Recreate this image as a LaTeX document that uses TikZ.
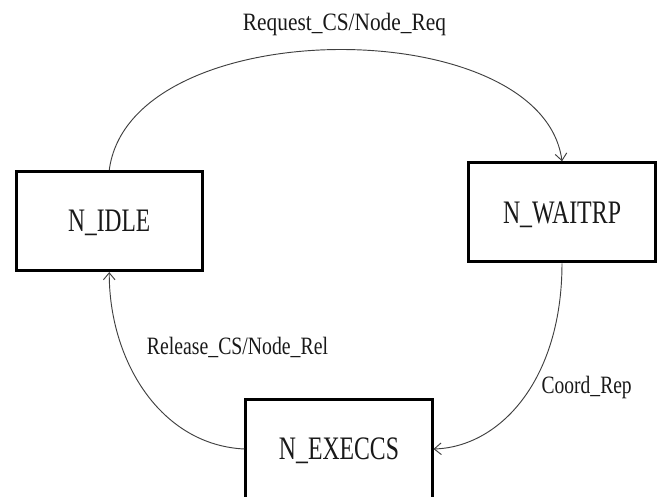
\documentclass[tikz,border=0pt]{standalone}
\usepackage{fontspec}
\setmainfont{Liberation Serif}
\usepackage{graphicx}
\usetikzlibrary{arrows.meta}

% squeeze text horizontally to a given width, keeping its height
\newcommand{\narrowto}[2]{\resizebox{#1}{\height}{#2}}

\tikzset{
  statebox/.style={draw=black, line width=0.09cm, fill=white, inner sep=0pt,
    minimum width=5.58cm, minimum height=2.97cm, text=black!90,
    font=\fontsize{28}{30}\selectfont, text height=0.65cm, text depth=0pt},
  translabel/.style={inner sep=0pt, anchor=base, text=black!90,
    font=\fontsize{21.3}{24}\selectfont},
  transition/.style={draw=black!75, line width=0.8pt,
    -{Straight Barb[length=6pt,width=10pt]}}
}

\begin{document}
\begin{tikzpicture}[x=0.03cm, y=-0.03cm]
  \useasboundingbox (0,0) rectangle (659,497);

  % the three node states
  \node[statebox] (idle) at (109.25,221.1) {\narrowto{2.46cm}{N\_IDLE}};
  \node[statebox] (wait) at (562,212.3)   {\narrowto{3.54cm}{N\_WAITRP}};
  \node[statebox] (exec) at (339,449)     {\narrowto{3.6cm}{N\_EXECCS}};

  % transitions
  \draw[transition] (idle.north) .. controls (130,11) and (542,11) .. (wait.north);
  \draw[transition] (wait.south) .. controls (562,380) and (500,447) .. (exec.east);
  \draw[transition] (exec.west) .. controls (160,445) and (109,360) .. (idle.south);

  % transition labels
  \node[translabel] (lreq) at (344.5,30)  {\narrowto{6.09cm}{Request\_CS/Node\_Req}};
  \node[translabel] (lrel) at (237.5,354.3) {\narrowto{5.43cm}{Release\_CS/Node\_Rel}};
  \node[translabel] (lrep) at (586.7,393.3) {\narrowto{2.7cm}{Coord\_Rep}};
\end{tikzpicture}
\end{document}
